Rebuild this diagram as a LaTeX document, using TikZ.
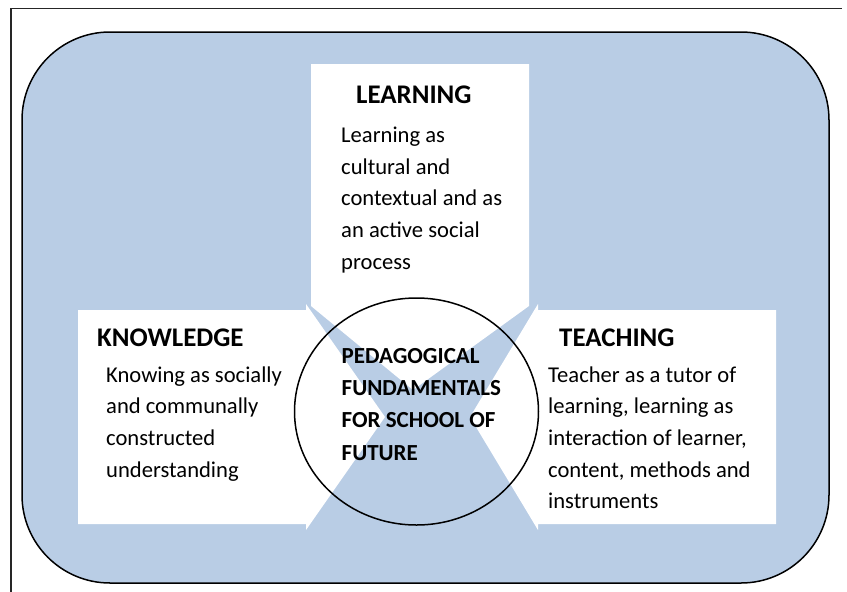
\documentclass[tikz,border=0pt]{standalone}
\usepackage{fontspec}
\setmainfont{Carlito}
\definecolor{bgblue}{RGB}{185,205,229}
\tikzset{
  arrowshape/.style={fill=white, draw=none},
  titletext/.style={anchor=base west, inner sep=0pt, font=\bfseries\fontsize{26.9}{31.7}\selectfont},
  bodytext/.style={anchor=base west, inner sep=0pt, align=left, font=\fontsize{22.6}{31.7}\selectfont},
  centertext/.style={anchor=base west, inner sep=0pt, align=left, font=\bfseries\fontsize{23}{32.2}\selectfont},
}
\begin{document}
\begin{tikzpicture}[x=1pt,y=-1pt]
\useasboundingbox (0,0) rectangle (847,592);
\fill[white] (0,0) rectangle (847,592);
% outer frame (left and top only)
\draw[line width=1.5pt, black!85] (11,592) -- (11,8.5) -- (842,8.5);
% background rounded panel
\draw[fill=bgblue, draw=black, line width=1.5pt, rounded corners=88pt] (22,32) rectangle (829,583);
% arrow shapes
\path[arrowshape] (311,64) -- (529,64) -- (529,306) -- (413,390) -- (311,306) -- cycle;
\path[arrowshape] (78,310) -- (306,310) -- (306,304) -- (385,417) -- (306,530) -- (306,524) -- (78,524) -- cycle;
\path[arrowshape] (776,310) -- (538,310) -- (538,304) -- (470,417) -- (538,530) -- (538,524) -- (776,524) -- cycle;
% central circle
\draw[line width=1.5pt, black] (416.5,411.5) ellipse [x radius=122pt, y radius=113.5pt];
% texts (multi-line nodes anchored at the baseline of their last line)
\node[titletext] (learnT) at (356,103.5) {LEARNING};
\node[bodytext] (learnB) at (341,269.3) {Learning as\\cultural and\\contextual and as\\an active social\\process};
\node[titletext] (knowT) at (97,346) {KNOWLEDGE};
\node[bodytext] (knowB) at (106,477.1) {Knowing as socially\\and communally\\constructed\\understanding};
\node[titletext] (teachT) at (559,346) {TEACHING};
\node[bodytext] (teachB) at (548,508.8) {Teacher as a tutor of\\learning, learning as\\interaction of learner,\\content, methods and\\instruments};
\node[centertext] (centerT) at (341.5,460.1) {PEDAGOGICAL\\FUNDAMENTALS\\FOR SCHOOL OF\\FUTURE};
\end{tikzpicture}
\end{document}
